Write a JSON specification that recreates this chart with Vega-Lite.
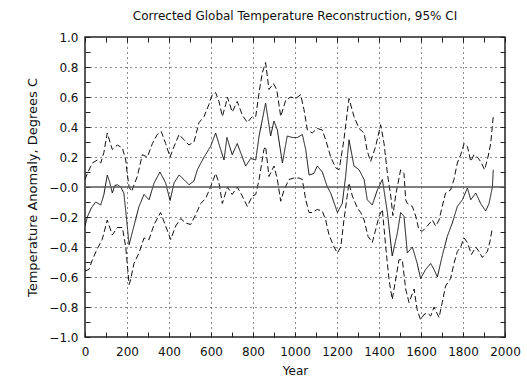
{
  "$schema": "https://vega.github.io/schema/vega-lite/v6.json",
  "width": 420,
  "height": 300,
  "autosize": {"type": "none"},
  "padding": {"left": 85, "top": 37, "right": 22, "bottom": 45},
  "background": "white",
  "config": {
    "font": "DejaVu Sans",
    "view": {"stroke": "#222", "strokeWidth": 1.5},
    "axis": {"labelFont": "DejaVu Sans", "titleFont": "DejaVu Sans", "labelColor": "#111", "titleColor": "#111", "titleFontWeight": "normal", "labelFontSize": 12, "titleFontSize": 12}
  },
  "title": {"text": "Corrected Global Temperature Reconstruction, 95% CI", "fontSize": 12, "fontWeight": "normal", "font": "DejaVu Sans", "color": "#111", "offset": 8},
  "datasets": {
    "recon": [
      {"year": 0, "temp": -0.26, "series": "Reconstruction"},
      {"year": 11, "temp": -0.2, "series": "Reconstruction"},
      {"year": 30, "temp": -0.14, "series": "Reconstruction"},
      {"year": 51, "temp": -0.1, "series": "Reconstruction"},
      {"year": 75, "temp": -0.12, "series": "Reconstruction"},
      {"year": 90, "temp": -0.05, "series": "Reconstruction"},
      {"year": 106, "temp": 0.08, "series": "Reconstruction"},
      {"year": 118, "temp": 0.03, "series": "Reconstruction"},
      {"year": 130, "temp": -0.04, "series": "Reconstruction"},
      {"year": 142, "temp": 0.01, "series": "Reconstruction"},
      {"year": 154, "temp": 0.015, "series": "Reconstruction"},
      {"year": 170, "temp": 0.0, "series": "Reconstruction"},
      {"year": 185, "temp": -0.04, "series": "Reconstruction"},
      {"year": 197, "temp": -0.2, "series": "Reconstruction"},
      {"year": 210, "temp": -0.385, "series": "Reconstruction"},
      {"year": 233, "temp": -0.26, "series": "Reconstruction"},
      {"year": 257, "temp": -0.13, "series": "Reconstruction"},
      {"year": 281, "temp": -0.05, "series": "Reconstruction"},
      {"year": 305, "temp": -0.085, "series": "Reconstruction"},
      {"year": 329, "temp": 0.027, "series": "Reconstruction"},
      {"year": 357, "temp": 0.1, "series": "Reconstruction"},
      {"year": 384, "temp": 0.027, "series": "Reconstruction"},
      {"year": 405, "temp": -0.09, "series": "Reconstruction"},
      {"year": 424, "temp": 0.027, "series": "Reconstruction"},
      {"year": 448, "temp": 0.08, "series": "Reconstruction"},
      {"year": 471, "temp": 0.05, "series": "Reconstruction"},
      {"year": 495, "temp": 0.015, "series": "Reconstruction"},
      {"year": 519, "temp": 0.04, "series": "Reconstruction"},
      {"year": 535, "temp": 0.115, "series": "Reconstruction"},
      {"year": 567, "temp": 0.2, "series": "Reconstruction"},
      {"year": 598, "temp": 0.27, "series": "Reconstruction"},
      {"year": 622, "temp": 0.36, "series": "Reconstruction"},
      {"year": 646, "temp": 0.25, "series": "Reconstruction"},
      {"year": 662, "temp": 0.18, "series": "Reconstruction"},
      {"year": 676, "temp": 0.33, "series": "Reconstruction"},
      {"year": 701, "temp": 0.215, "series": "Reconstruction"},
      {"year": 725, "temp": 0.29, "series": "Reconstruction"},
      {"year": 749, "temp": 0.2, "series": "Reconstruction"},
      {"year": 765, "temp": 0.14, "series": "Reconstruction"},
      {"year": 789, "temp": 0.19, "series": "Reconstruction"},
      {"year": 813, "temp": 0.18, "series": "Reconstruction"},
      {"year": 829, "temp": 0.34, "series": "Reconstruction"},
      {"year": 860, "temp": 0.56, "series": "Reconstruction"},
      {"year": 884, "temp": 0.34, "series": "Reconstruction"},
      {"year": 900, "temp": 0.44, "series": "Reconstruction"},
      {"year": 916, "temp": 0.38, "series": "Reconstruction"},
      {"year": 940, "temp": 0.16, "series": "Reconstruction"},
      {"year": 963, "temp": 0.34, "series": "Reconstruction"},
      {"year": 987, "temp": 0.33, "series": "Reconstruction"},
      {"year": 1011, "temp": 0.33, "series": "Reconstruction"},
      {"year": 1035, "temp": 0.35, "series": "Reconstruction"},
      {"year": 1051, "temp": 0.25, "series": "Reconstruction"},
      {"year": 1067, "temp": 0.08, "series": "Reconstruction"},
      {"year": 1090, "temp": 0.09, "series": "Reconstruction"},
      {"year": 1106, "temp": 0.14, "series": "Reconstruction"},
      {"year": 1130, "temp": 0.1, "series": "Reconstruction"},
      {"year": 1154, "temp": 0.0, "series": "Reconstruction"},
      {"year": 1170, "temp": -0.04, "series": "Reconstruction"},
      {"year": 1202, "temp": -0.17, "series": "Reconstruction"},
      {"year": 1225, "temp": -0.11, "series": "Reconstruction"},
      {"year": 1241, "temp": 0.07, "series": "Reconstruction"},
      {"year": 1257, "temp": 0.315, "series": "Reconstruction"},
      {"year": 1281, "temp": 0.14, "series": "Reconstruction"},
      {"year": 1305, "temp": 0.115, "series": "Reconstruction"},
      {"year": 1329, "temp": 0.05, "series": "Reconstruction"},
      {"year": 1344, "temp": -0.085, "series": "Reconstruction"},
      {"year": 1368, "temp": -0.12, "series": "Reconstruction"},
      {"year": 1392, "temp": -0.02, "series": "Reconstruction"},
      {"year": 1416, "temp": 0.05, "series": "Reconstruction"},
      {"year": 1440, "temp": -0.17, "series": "Reconstruction"},
      {"year": 1463, "temp": -0.46, "series": "Reconstruction"},
      {"year": 1487, "temp": -0.31, "series": "Reconstruction"},
      {"year": 1503, "temp": -0.17, "series": "Reconstruction"},
      {"year": 1519, "temp": -0.195, "series": "Reconstruction"},
      {"year": 1535, "temp": -0.44, "series": "Reconstruction"},
      {"year": 1559, "temp": -0.4, "series": "Reconstruction"},
      {"year": 1582, "temp": -0.51, "series": "Reconstruction"},
      {"year": 1598, "temp": -0.61, "series": "Reconstruction"},
      {"year": 1622, "temp": -0.55, "series": "Reconstruction"},
      {"year": 1646, "temp": -0.51, "series": "Reconstruction"},
      {"year": 1662, "temp": -0.55, "series": "Reconstruction"},
      {"year": 1678, "temp": -0.6, "series": "Reconstruction"},
      {"year": 1701, "temp": -0.46, "series": "Reconstruction"},
      {"year": 1725, "temp": -0.33, "series": "Reconstruction"},
      {"year": 1749, "temp": -0.24, "series": "Reconstruction"},
      {"year": 1773, "temp": -0.13, "series": "Reconstruction"},
      {"year": 1797, "temp": -0.085, "series": "Reconstruction"},
      {"year": 1821, "temp": -0.007, "series": "Reconstruction"},
      {"year": 1837, "temp": -0.085, "series": "Reconstruction"},
      {"year": 1861, "temp": -0.04, "series": "Reconstruction"},
      {"year": 1884, "temp": -0.11, "series": "Reconstruction"},
      {"year": 1908, "temp": -0.16, "series": "Reconstruction"},
      {"year": 1924, "temp": -0.11, "series": "Reconstruction"},
      {"year": 1940, "temp": 0.0, "series": "Reconstruction"},
      {"year": 1944, "temp": 0.115, "series": "Reconstruction"},

      {"year": 0, "temp": 0.05, "series": "Upper 95%"},
      {"year": 11, "temp": 0.09, "series": "Upper 95%"},
      {"year": 35, "temp": 0.16, "series": "Upper 95%"},
      {"year": 59, "temp": 0.18, "series": "Upper 95%"},
      {"year": 75, "temp": 0.16, "series": "Upper 95%"},
      {"year": 90, "temp": 0.23, "series": "Upper 95%"},
      {"year": 106, "temp": 0.36, "series": "Upper 95%"},
      {"year": 130, "temp": 0.25, "series": "Upper 95%"},
      {"year": 154, "temp": 0.28, "series": "Upper 95%"},
      {"year": 178, "temp": 0.26, "series": "Upper 95%"},
      {"year": 194, "temp": 0.18, "series": "Upper 95%"},
      {"year": 201, "temp": 0.09, "series": "Upper 95%"},
      {"year": 210, "temp": 0.0, "series": "Upper 95%"},
      {"year": 222, "temp": -0.03, "series": "Upper 95%"},
      {"year": 235, "temp": 0.02, "series": "Upper 95%"},
      {"year": 249, "temp": 0.07, "series": "Upper 95%"},
      {"year": 273, "temp": 0.215, "series": "Upper 95%"},
      {"year": 297, "temp": 0.2, "series": "Upper 95%"},
      {"year": 321, "temp": 0.29, "series": "Upper 95%"},
      {"year": 344, "temp": 0.35, "series": "Upper 95%"},
      {"year": 363, "temp": 0.37, "series": "Upper 95%"},
      {"year": 384, "temp": 0.29, "series": "Upper 95%"},
      {"year": 405, "temp": 0.2, "series": "Upper 95%"},
      {"year": 424, "temp": 0.27, "series": "Upper 95%"},
      {"year": 448, "temp": 0.35, "series": "Upper 95%"},
      {"year": 471, "temp": 0.315, "series": "Upper 95%"},
      {"year": 495, "temp": 0.28, "series": "Upper 95%"},
      {"year": 519, "temp": 0.3, "series": "Upper 95%"},
      {"year": 543, "temp": 0.43, "series": "Upper 95%"},
      {"year": 567, "temp": 0.47, "series": "Upper 95%"},
      {"year": 590, "temp": 0.55, "series": "Upper 95%"},
      {"year": 606, "temp": 0.615, "series": "Upper 95%"},
      {"year": 622, "temp": 0.63, "series": "Upper 95%"},
      {"year": 638, "temp": 0.57, "series": "Upper 95%"},
      {"year": 654, "temp": 0.47, "series": "Upper 95%"},
      {"year": 670, "temp": 0.55, "series": "Upper 95%"},
      {"year": 678, "temp": 0.6, "series": "Upper 95%"},
      {"year": 701, "temp": 0.5, "series": "Upper 95%"},
      {"year": 725, "temp": 0.57, "series": "Upper 95%"},
      {"year": 749, "temp": 0.48, "series": "Upper 95%"},
      {"year": 773, "temp": 0.43, "series": "Upper 95%"},
      {"year": 797, "temp": 0.47, "series": "Upper 95%"},
      {"year": 813, "temp": 0.47, "series": "Upper 95%"},
      {"year": 829, "temp": 0.63, "series": "Upper 95%"},
      {"year": 844, "temp": 0.76, "series": "Upper 95%"},
      {"year": 860, "temp": 0.83, "series": "Upper 95%"},
      {"year": 876, "temp": 0.65, "series": "Upper 95%"},
      {"year": 897, "temp": 0.69, "series": "Upper 95%"},
      {"year": 913, "temp": 0.65, "series": "Upper 95%"},
      {"year": 932, "temp": 0.47, "series": "Upper 95%"},
      {"year": 956, "temp": 0.58, "series": "Upper 95%"},
      {"year": 980, "temp": 0.6, "series": "Upper 95%"},
      {"year": 1003, "temp": 0.59, "series": "Upper 95%"},
      {"year": 1027, "temp": 0.615, "series": "Upper 95%"},
      {"year": 1043, "temp": 0.515, "series": "Upper 95%"},
      {"year": 1059, "temp": 0.38, "series": "Upper 95%"},
      {"year": 1082, "temp": 0.36, "series": "Upper 95%"},
      {"year": 1106, "temp": 0.39, "series": "Upper 95%"},
      {"year": 1130, "temp": 0.38, "series": "Upper 95%"},
      {"year": 1146, "temp": 0.315, "series": "Upper 95%"},
      {"year": 1170, "temp": 0.2, "series": "Upper 95%"},
      {"year": 1194, "temp": 0.127, "series": "Upper 95%"},
      {"year": 1210, "temp": 0.115, "series": "Upper 95%"},
      {"year": 1233, "temp": 0.315, "series": "Upper 95%"},
      {"year": 1257, "temp": 0.59, "series": "Upper 95%"},
      {"year": 1281, "temp": 0.47, "series": "Upper 95%"},
      {"year": 1305, "temp": 0.39, "series": "Upper 95%"},
      {"year": 1329, "temp": 0.36, "series": "Upper 95%"},
      {"year": 1344, "temp": 0.24, "series": "Upper 95%"},
      {"year": 1360, "temp": 0.17, "series": "Upper 95%"},
      {"year": 1384, "temp": 0.27, "series": "Upper 95%"},
      {"year": 1408, "temp": 0.415, "series": "Upper 95%"},
      {"year": 1424, "temp": 0.29, "series": "Upper 95%"},
      {"year": 1440, "temp": 0.09, "series": "Upper 95%"},
      {"year": 1456, "temp": -0.06, "series": "Upper 95%"},
      {"year": 1466, "temp": -0.19, "series": "Upper 95%"},
      {"year": 1480, "temp": -0.05, "series": "Upper 95%"},
      {"year": 1503, "temp": 0.115, "series": "Upper 95%"},
      {"year": 1519, "temp": 0.09, "series": "Upper 95%"},
      {"year": 1527, "temp": -0.085, "series": "Upper 95%"},
      {"year": 1535, "temp": -0.11, "series": "Upper 95%"},
      {"year": 1559, "temp": -0.13, "series": "Upper 95%"},
      {"year": 1575, "temp": -0.195, "series": "Upper 95%"},
      {"year": 1590, "temp": -0.285, "series": "Upper 95%"},
      {"year": 1606, "temp": -0.295, "series": "Upper 95%"},
      {"year": 1630, "temp": -0.26, "series": "Upper 95%"},
      {"year": 1654, "temp": -0.22, "series": "Upper 95%"},
      {"year": 1670, "temp": -0.26, "series": "Upper 95%"},
      {"year": 1686, "temp": -0.22, "series": "Upper 95%"},
      {"year": 1701, "temp": -0.13, "series": "Upper 95%"},
      {"year": 1717, "temp": -0.04, "series": "Upper 95%"},
      {"year": 1741, "temp": -0.02, "series": "Upper 95%"},
      {"year": 1757, "temp": 0.05, "series": "Upper 95%"},
      {"year": 1773, "temp": 0.16, "series": "Upper 95%"},
      {"year": 1789, "temp": 0.215, "series": "Upper 95%"},
      {"year": 1805, "temp": 0.29, "series": "Upper 95%"},
      {"year": 1821, "temp": 0.27, "series": "Upper 95%"},
      {"year": 1837, "temp": 0.17, "series": "Upper 95%"},
      {"year": 1852, "temp": 0.215, "series": "Upper 95%"},
      {"year": 1868, "temp": 0.2, "series": "Upper 95%"},
      {"year": 1884, "temp": 0.17, "series": "Upper 95%"},
      {"year": 1903, "temp": 0.115, "series": "Upper 95%"},
      {"year": 1919, "temp": 0.2, "series": "Upper 95%"},
      {"year": 1932, "temp": 0.29, "series": "Upper 95%"},
      {"year": 1944, "temp": 0.47, "series": "Upper 95%"},

      {"year": 0, "temp": -0.56, "series": "Lower 95%"},
      {"year": 19, "temp": -0.55, "series": "Lower 95%"},
      {"year": 35, "temp": -0.485, "series": "Lower 95%"},
      {"year": 59, "temp": -0.41, "series": "Lower 95%"},
      {"year": 82, "temp": -0.35, "series": "Lower 95%"},
      {"year": 106, "temp": -0.22, "series": "Lower 95%"},
      {"year": 130, "temp": -0.32, "series": "Lower 95%"},
      {"year": 154, "temp": -0.27, "series": "Lower 95%"},
      {"year": 178, "temp": -0.27, "series": "Lower 95%"},
      {"year": 194, "temp": -0.4, "series": "Lower 95%"},
      {"year": 210, "temp": -0.65, "series": "Lower 95%"},
      {"year": 217, "temp": -0.62, "series": "Lower 95%"},
      {"year": 233, "temp": -0.51, "series": "Lower 95%"},
      {"year": 257, "temp": -0.44, "series": "Lower 95%"},
      {"year": 281, "temp": -0.34, "series": "Lower 95%"},
      {"year": 305, "temp": -0.35, "series": "Lower 95%"},
      {"year": 329, "temp": -0.25, "series": "Lower 95%"},
      {"year": 360, "temp": -0.17, "series": "Lower 95%"},
      {"year": 384, "temp": -0.26, "series": "Lower 95%"},
      {"year": 408, "temp": -0.35, "series": "Lower 95%"},
      {"year": 432, "temp": -0.26, "series": "Lower 95%"},
      {"year": 456, "temp": -0.21, "series": "Lower 95%"},
      {"year": 479, "temp": -0.24, "series": "Lower 95%"},
      {"year": 503, "temp": -0.25, "series": "Lower 95%"},
      {"year": 527, "temp": -0.185, "series": "Lower 95%"},
      {"year": 551, "temp": -0.11, "series": "Lower 95%"},
      {"year": 575, "temp": -0.075, "series": "Lower 95%"},
      {"year": 598, "temp": 0.0, "series": "Lower 95%"},
      {"year": 622, "temp": 0.09, "series": "Lower 95%"},
      {"year": 638, "temp": 0.027, "series": "Lower 95%"},
      {"year": 654, "temp": -0.11, "series": "Lower 95%"},
      {"year": 678, "temp": 0.0, "series": "Lower 95%"},
      {"year": 701, "temp": -0.05, "series": "Lower 95%"},
      {"year": 725, "temp": 0.0, "series": "Lower 95%"},
      {"year": 749, "temp": -0.06, "series": "Lower 95%"},
      {"year": 773, "temp": -0.13, "series": "Lower 95%"},
      {"year": 797, "temp": -0.06, "series": "Lower 95%"},
      {"year": 813, "temp": -0.05, "series": "Lower 95%"},
      {"year": 829, "temp": 0.05, "series": "Lower 95%"},
      {"year": 852, "temp": 0.25, "series": "Lower 95%"},
      {"year": 860, "temp": 0.27, "series": "Lower 95%"},
      {"year": 876, "temp": 0.07, "series": "Lower 95%"},
      {"year": 900, "temp": 0.14, "series": "Lower 95%"},
      {"year": 916, "temp": 0.05, "series": "Lower 95%"},
      {"year": 932, "temp": -0.095, "series": "Lower 95%"},
      {"year": 948, "temp": -0.02, "series": "Lower 95%"},
      {"year": 971, "temp": 0.05, "series": "Lower 95%"},
      {"year": 995, "temp": 0.06, "series": "Lower 95%"},
      {"year": 1019, "temp": 0.06, "series": "Lower 95%"},
      {"year": 1035, "temp": 0.05, "series": "Lower 95%"},
      {"year": 1051, "temp": -0.085, "series": "Lower 95%"},
      {"year": 1067, "temp": -0.17, "series": "Lower 95%"},
      {"year": 1082, "temp": -0.17, "series": "Lower 95%"},
      {"year": 1106, "temp": -0.15, "series": "Lower 95%"},
      {"year": 1130, "temp": -0.16, "series": "Lower 95%"},
      {"year": 1146, "temp": -0.22, "series": "Lower 95%"},
      {"year": 1162, "temp": -0.32, "series": "Lower 95%"},
      {"year": 1186, "temp": -0.4, "series": "Lower 95%"},
      {"year": 1202, "temp": -0.44, "series": "Lower 95%"},
      {"year": 1218, "temp": -0.4, "series": "Lower 95%"},
      {"year": 1233, "temp": -0.22, "series": "Lower 95%"},
      {"year": 1257, "temp": 0.027, "series": "Lower 95%"},
      {"year": 1273, "temp": -0.06, "series": "Lower 95%"},
      {"year": 1297, "temp": -0.14, "series": "Lower 95%"},
      {"year": 1313, "temp": -0.17, "series": "Lower 95%"},
      {"year": 1329, "temp": -0.22, "series": "Lower 95%"},
      {"year": 1348, "temp": -0.33, "series": "Lower 95%"},
      {"year": 1368, "temp": -0.37, "series": "Lower 95%"},
      {"year": 1384, "temp": -0.285, "series": "Lower 95%"},
      {"year": 1400, "temp": -0.195, "series": "Lower 95%"},
      {"year": 1416, "temp": -0.15, "series": "Lower 95%"},
      {"year": 1432, "temp": -0.4, "series": "Lower 95%"},
      {"year": 1448, "temp": -0.62, "series": "Lower 95%"},
      {"year": 1463, "temp": -0.75, "series": "Lower 95%"},
      {"year": 1479, "temp": -0.62, "series": "Lower 95%"},
      {"year": 1495, "temp": -0.485, "series": "Lower 95%"},
      {"year": 1511, "temp": -0.485, "series": "Lower 95%"},
      {"year": 1527, "temp": -0.68, "series": "Lower 95%"},
      {"year": 1543, "temp": -0.77, "series": "Lower 95%"},
      {"year": 1567, "temp": -0.68, "series": "Lower 95%"},
      {"year": 1582, "temp": -0.82, "series": "Lower 95%"},
      {"year": 1598, "temp": -0.885, "series": "Lower 95%"},
      {"year": 1614, "temp": -0.85, "series": "Lower 95%"},
      {"year": 1630, "temp": -0.84, "series": "Lower 95%"},
      {"year": 1646, "temp": -0.86, "series": "Lower 95%"},
      {"year": 1662, "temp": -0.8, "series": "Lower 95%"},
      {"year": 1686, "temp": -0.87, "series": "Lower 95%"},
      {"year": 1701, "temp": -0.77, "series": "Lower 95%"},
      {"year": 1717, "temp": -0.66, "series": "Lower 95%"},
      {"year": 1741, "temp": -0.61, "series": "Lower 95%"},
      {"year": 1757, "temp": -0.51, "series": "Lower 95%"},
      {"year": 1773, "temp": -0.43, "series": "Lower 95%"},
      {"year": 1789, "temp": -0.4, "series": "Lower 95%"},
      {"year": 1805, "temp": -0.34, "series": "Lower 95%"},
      {"year": 1821, "temp": -0.37, "series": "Lower 95%"},
      {"year": 1840, "temp": -0.45, "series": "Lower 95%"},
      {"year": 1861, "temp": -0.4, "series": "Lower 95%"},
      {"year": 1876, "temp": -0.43, "series": "Lower 95%"},
      {"year": 1892, "temp": -0.47, "series": "Lower 95%"},
      {"year": 1903, "temp": -0.45, "series": "Lower 95%"},
      {"year": 1916, "temp": -0.43, "series": "Lower 95%"},
      {"year": 1929, "temp": -0.36, "series": "Lower 95%"},
      {"year": 1940, "temp": -0.27, "series": "Lower 95%"}
    ],
    "zero": [{"x0": 0, "x1": 2000, "y": 0}]
  },
  "resolve": {"axis": {"x": "independent", "y": "independent"}},
  "layer": [
    {
      "data": {"name": "recon"},
      "mark": {"type": "line", "color": "#111", "strokeWidth": 1, "clip": true},
      "encoding": {
        "x": {
          "field": "year", "type": "quantitative",
          "scale": {"domain": [0, 2000], "nice": false, "zero": false},
          "axis": {
            "orient": "bottom", "title": "Year", "titlePadding": 8,
            "values": [0,100,200,300,400,500,600,700,800,900,1000,1100,1200,1300,1400,1500,1600,1700,1800,1900,2000],
            "labelExpr": "datum.value % 200 == 0 ? datum.value : ''",
            "labelOverlap": false, "labelFlush": false,
            "tickSize": -5, "tickColor": "#222", "labelPadding": 14,
            "domain": false,
            "grid": true, "gridColor": "#000", "gridDash": [1, 4], "gridWidth": 1,
            "gridOpacity": {"condition": {"test": "datum.value % 200 == 0 && datum.value > 0 && datum.value < 2000", "value": 0.9}, "value": 0}
          }
        },
        "y": {
          "field": "temp", "type": "quantitative",
          "scale": {"domain": [-1, 1], "nice": false, "zero": false},
          "axis": {
            "orient": "left", "title": "Temperature Anomaly, Degrees C", "titlePadding": 9, "titleFontSize": 13,
            "values": [-1,-0.9,-0.8,-0.7,-0.6,-0.5,-0.4,-0.3,-0.2,-0.1,0,0.1,0.2,0.3,0.4,0.5,0.6,0.7,0.8,0.9,1],
            "labelExpr": "datum.value == 0 ? '−0.0' : (abs(round(datum.value * 10)) % 2 == 0 ? format(datum.value, '.1f') : '')",
            "labelOverlap": false, "labelFlush": false,
            "tickSize": -5, "tickColor": "#222", "labelPadding": 12,
            "domain": false,
            "grid": true, "gridColor": "#000", "gridDash": [1, 4], "gridWidth": 1,
            "gridOpacity": {"condition": {"test": "abs(round(datum.value * 10)) % 2 == 0 && abs(datum.value) < 0.95 && datum.value != 0", "value": 0.9}, "value": 0}
          }
        },
        "strokeDash": {
          "field": "series", "type": "nominal",
          "scale": {"domain": ["Reconstruction", "Upper 95%", "Lower 95%"], "range": [[1, 0], [6, 3], [6, 3]]},
          "legend": null
        }
      }
    },
    {
      "data": {"name": "zero"},
      "mark": {"type": "rule", "color": "#555", "strokeWidth": 1.5},
      "encoding": {
        "x": {
          "field": "x0", "type": "quantitative",
          "axis": {
            "orient": "top", "title": null, "labels": false, "grid": false, "domain": false,
            "values": [0,100,200,300,400,500,600,700,800,900,1000,1100,1200,1300,1400,1500,1600,1700,1800,1900,2000],
            "tickSize": -5, "tickColor": "#222"
          }
        },
        "x2": {"field": "x1"},
        "y": {
          "field": "y", "type": "quantitative",
          "axis": {
            "orient": "right", "title": null, "labels": false, "grid": false, "domain": false,
            "values": [-1,-0.9,-0.8,-0.7,-0.6,-0.5,-0.4,-0.3,-0.2,-0.1,0,0.1,0.2,0.3,0.4,0.5,0.6,0.7,0.8,0.9,1],
            "tickSize": -5, "tickColor": "#222"
          }
        }
      }
    }
  ]
}
